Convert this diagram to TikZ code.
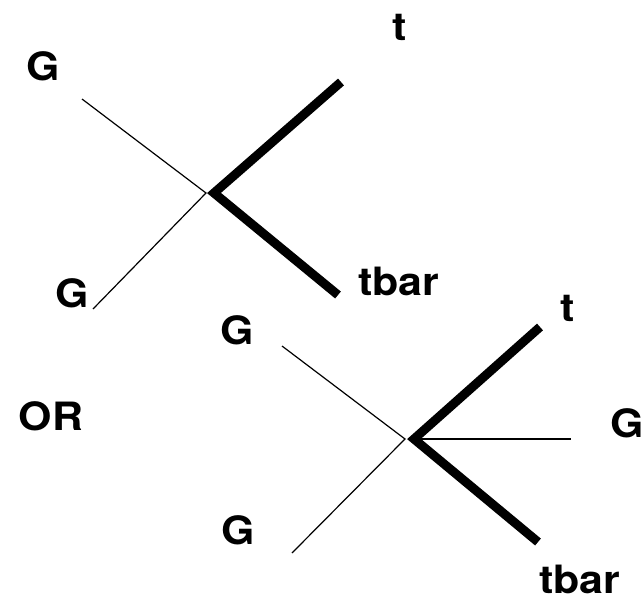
\documentclass[tikz,border=0pt]{standalone}
\usepackage{fontspec}
\setmainfont{TeX Gyre Heros}
\begin{document}
\begin{tikzpicture}[x=1pt,y=-1pt]
\tikzset{
  lbl/.style={font=\fontsize{39}{42}\selectfont\bfseries, inner sep=0pt, xscale=1.1},
  gluon/.style={line width=1.2pt},
  quark/.style={line width=9pt, line join=miter}
}
\useasboundingbox (0,0) rectangle (641,597);

% labels
\node[lbl] (G1) at (43,66) {G};
\node[lbl] (t1) at (400,27) {t};
\node[lbl] (G2) at (72,293) {G};
\node[lbl] (tb1) at (399,281) {tbar};
\node[lbl] (OR) at (51,416) {OR};
\node[lbl] (G3) at (237,330) {G};
\node[lbl] (t2) at (568,308) {t};
\node[lbl] (G4) at (627,423) {G};
\node[lbl] (G5) at (238,530) {G};
\node[lbl] (tb2) at (580,579) {tbar};

% first vertex: g g -> t tbar
\coordinate (a1) at (82,99);
\coordinate (b1) at (93,309);
\coordinate (v1) at (206,193);
\coordinate (w1) at (214,193);
\coordinate (c1) at (341,82);
\coordinate (d1) at (338,295);
\draw[gluon] (a1) -- (v1) -- (b1);
\draw[quark] (c1) -- (w1) -- (d1);

% second vertex: g g -> t tbar g
\coordinate (a2) at (282,346);
\coordinate (b2) at (292,553);
\coordinate (v2) at (405,439);
\coordinate (w2) at (414,439);
\coordinate (c2) at (540,327);
\coordinate (d2) at (538,542);
\coordinate (e2) at (571,439);
\draw[gluon] (a2) -- (v2) -- (b2);
\draw[gluon] (w2) -- (e2);
\draw[quark] (c2) -- (w2) -- (d2);
\end{tikzpicture}
\end{document}
